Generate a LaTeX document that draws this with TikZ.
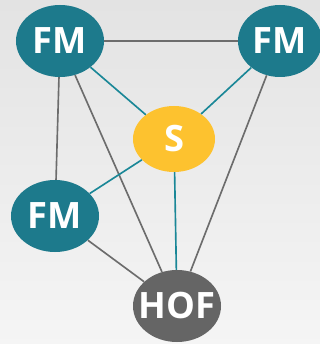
\documentclass[tikz,border=0pt]{standalone}
\usepackage{fontspec}
\setmainfont{Open Sans}
\usepackage{tikz}
\usetikzlibrary{shapes.geometric}
\definecolor{fmteal}{HTML}{1D7A8C}
\definecolor{syellow}{HTML}{FDC22F}
\definecolor{hofgray}{HTML}{656565}

\begin{document}
\begin{tikzpicture}[x=0.03cm, y=-0.03cm,
    bubble/.style={ellipse, minimum width=2.64cm, minimum height=2.16cm, inner sep=0pt,
        text=white, font=\fontsize{31}{33}\selectfont\bfseries},
    fm/.style={bubble, fill=fmteal},
    grayline/.style={draw=gray!85!black, line width=1.4pt},
    tealline/.style={draw=fmteal!90!cyan, line width=1.4pt}]
    %Background
    \shade[top color=gray!22, bottom color=gray!8] (0,0) rectangle (320,344);
    \useasboundingbox (0,0) rectangle (320,344);
    %Nodes
    \node[fm] (fmA) at (60,41) {FM};
    \node[fm, minimum width=2.52cm] (fmB) at (280,41) {FM};
    \node[fm] (fmC) at (55,216) {FM};
    \node[bubble, fill=syellow, minimum width=2.46cm, minimum height=1.98cm] (s) at (174,139) {S};
    \node[bubble, fill=hofgray, inner xsep=-12pt] (hof) at (177,306) {HOF};
    %Gray links
    \draw[grayline] (fmA) -- (fmB);
    \draw[grayline] (fmA) -- (fmC);
    \draw[grayline] (fmA) -- (hof);
    \draw[grayline] (fmB) -- (hof);
    \draw[grayline] (fmC) -- (hof);
    %Teal links
    \draw[tealline] (fmA) -- (s);
    \draw[tealline] (fmB) -- (s);
    \draw[tealline] (fmC) -- (s);
    \draw[tealline] (s) -- (hof);
\end{tikzpicture}
\end{document}
